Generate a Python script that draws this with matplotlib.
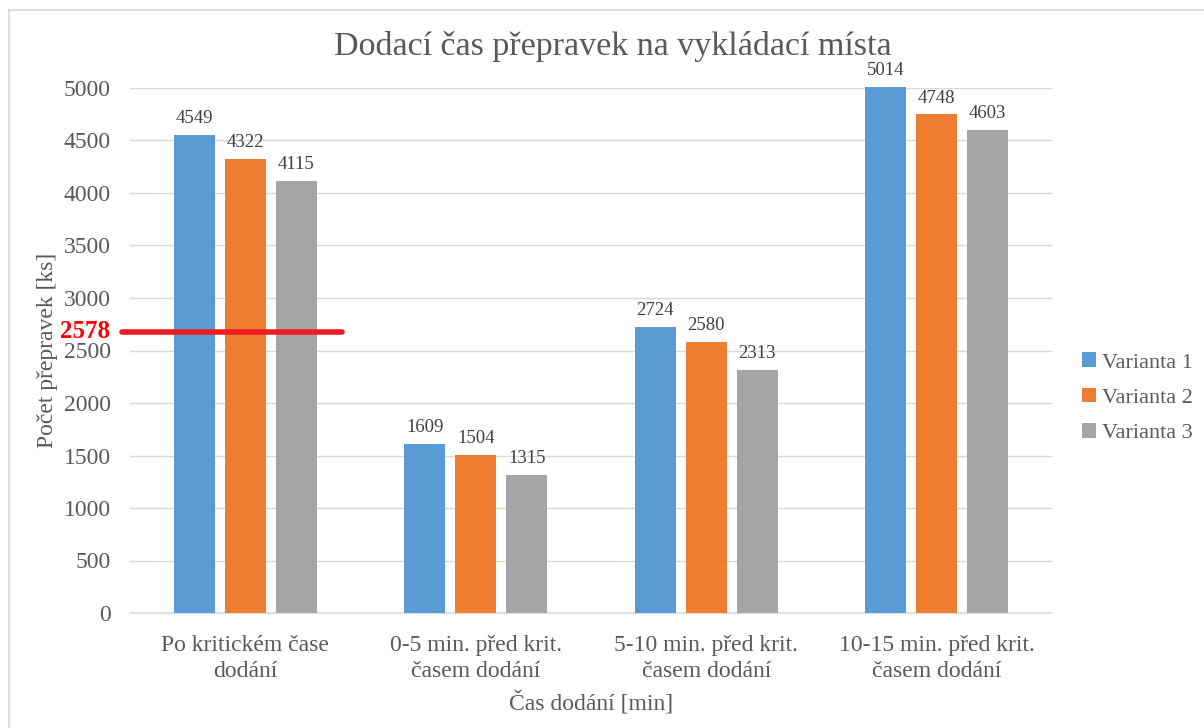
import numpy as np
import matplotlib.pyplot as plt
from matplotlib.lines import Line2D

categories = ['Po kritickém čase\ndodání', '0-5 min. před krit.\nčasem dodání',
              '5-10 min. před krit.\nčasem dodání', '10-15 min. před krit.\nčasem dodání']
series_names = ['Varianta 1', 'Varianta 2', 'Varianta 3']
varianta1 = [4549, 1609, 2724, 5014]
varianta2 = [4322, 1504, 2580, 4748]
varianta3 = [4115, 1315, 2313, 4603]
colors = ['#5b9bd5', '#ed7d31', '#a5a5a5']

# red marker line drawn over the first group (label reads 2578)
limit_label = '2578'
limit_line_value = 2675

plt.rcParams['font.family'] = ['Liberation Serif', 'DejaVu Serif']
text_color = '#595959'

fig = plt.figure(figsize=(12.04, 7.28), dpi=100)
ax = fig.add_axes([130 / 1204, 1 - 613 / 728, 922 / 1204, 525 / 728])

x = np.arange(len(categories))
width = 0.178
step = 0.221
for i, (vals, name, c) in enumerate(zip([varianta1, varianta2, varianta3], series_names, colors)):
    pos = x + (i - 1) * step
    bars = ax.bar(pos, vals, width, color=c, label=name, clip_on=False, zorder=3)
    for b, v in zip(bars, vals):
        ax.text(b.get_x() + b.get_width() / 2, v + 75, str(v), ha='center', va='bottom',
                fontsize=13.5, color='#404040')

ax.set_xlim(-0.5, len(categories) - 0.5)
ax.set_ylim(0, 5000)
ax.set_yticks(np.arange(0, 5001, 500))
ax.set_xticks(x)
ax.set_xticklabels(categories, fontsize=17, color=text_color, linespacing=1.3)
ax.tick_params(axis='y', labelsize=17, labelcolor=text_color, length=0, pad=14)
ax.tick_params(axis='x', length=0, pad=16)
ax.grid(axis='y', color='#d9d9d9', linewidth=1, zorder=0)
for s in ['top', 'right', 'left']:
    ax.spines[s].set_visible(False)
ax.spines['bottom'].set_color('#d9d9d9')
ax.spines['bottom'].set_linewidth(1.2)

ax.set_xlabel('Čas dodání [min]', fontsize=17, color=text_color, labelpad=7)
ax.set_ylabel('Počet přepravek [ks]', fontsize=17, color=text_color)
ax.yaxis.set_label_coords(-(130 - 58) / 922, 0.5)
fig.text(613 / 1204, 1 - 46 / 728, 'Dodací čas přepravek na vykládací místa',
         ha='center', va='center', fontsize=24.5, color=text_color)

# red line and label
ax.plot([-0.535, 0.42], [limit_line_value, limit_line_value], color='#ed1c24', linewidth=4,
        solid_capstyle='round', clip_on=False, zorder=5)
ax.annotate(limit_label, xy=(-0.5, limit_line_value), xytext=(-20, 1), textcoords='offset pixels',
            ha='right', va='center', fontsize=18, fontweight='bold', color='#ff0000',
            annotation_clip=False)

leg = ax.legend(loc='center left', bbox_to_anchor=(1.0325, 0.41), frameon=False, fontsize=16,
                borderaxespad=0, borderpad=0,
                handlelength=0.65, handleheight=0.65, handletextpad=0.25, labelspacing=0.68)
for t in leg.get_texts():
    t.set_color(text_color)

# chart border
fig.add_artist(Line2D([9 / 1204, 1], [1 - 10 / 728, 1 - 10 / 728], color='#d9d9d9', linewidth=1.2))
fig.add_artist(Line2D([9 / 1204, 9 / 1204], [0, 1 - 10 / 728], color='#d9d9d9', linewidth=1.2))

fig.savefig('out.png', dpi=100)
